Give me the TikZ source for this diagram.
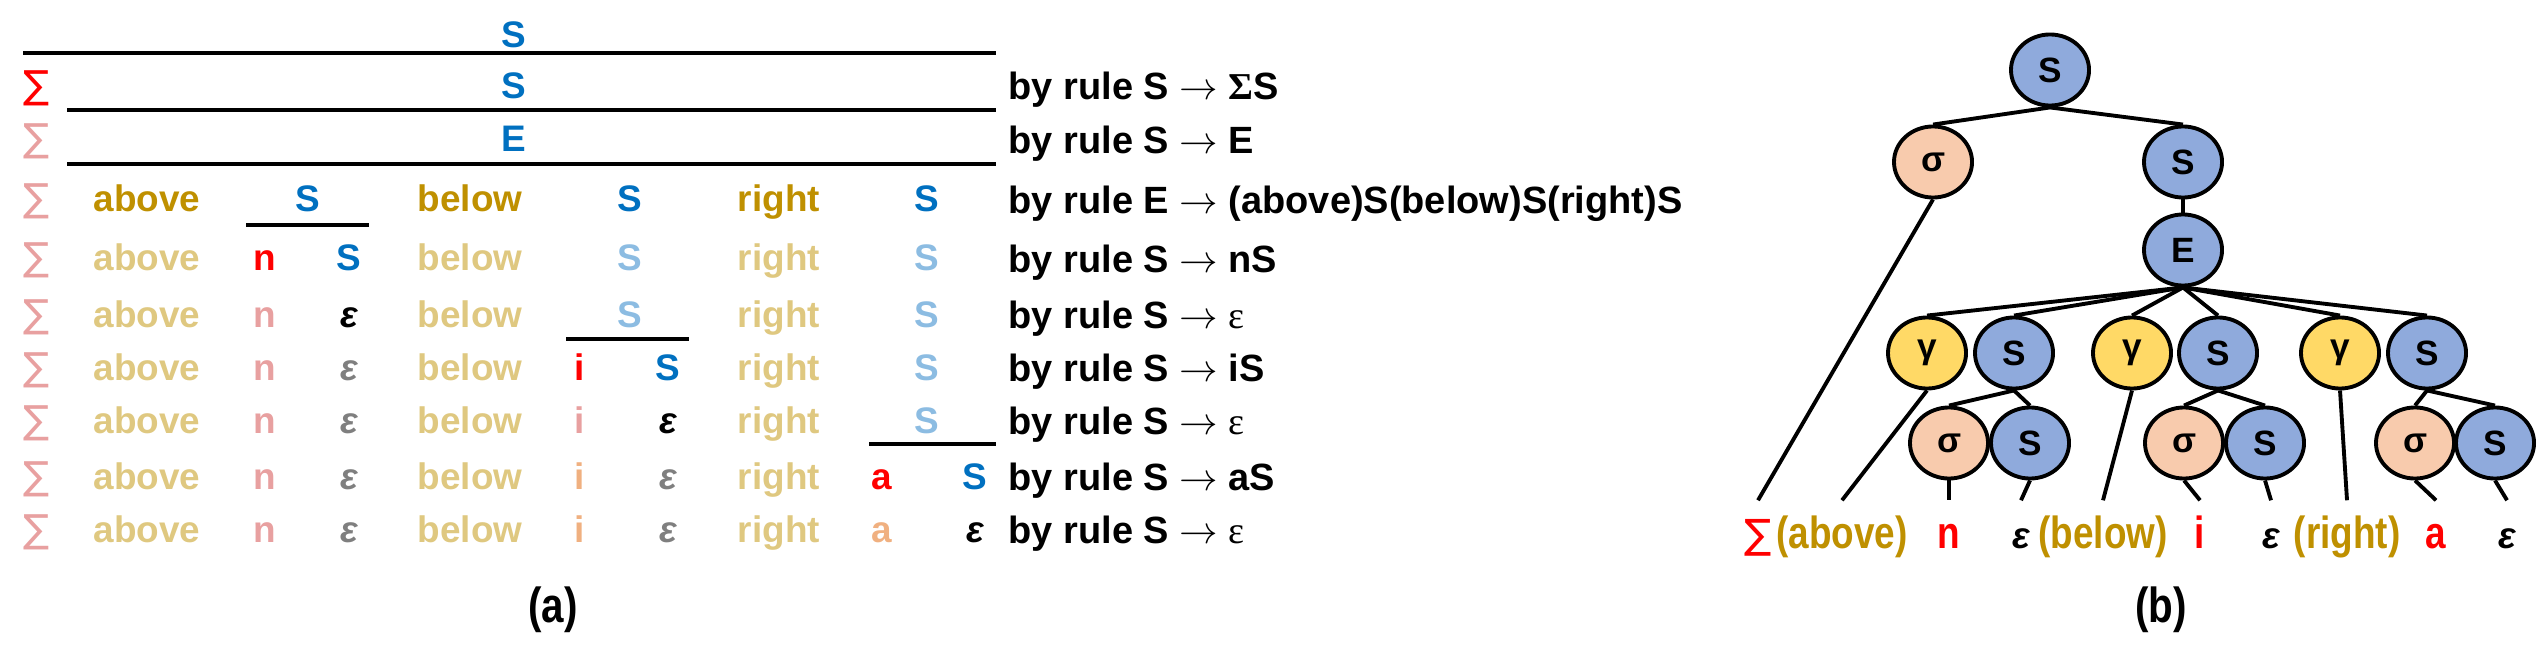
\documentclass[tikz,border=0pt]{standalone}
\usepackage{fontspec}
\setmainfont{Liberation Sans}
\newfontfamily\narrowfont[FakeStretch=0.82]{Liberation Sans}
\newfontfamily\sumfont{DejaVu Sans}
\newfontfamily\greekserif{Liberation Serif}
\usetikzlibrary{shapes,positioning}

\definecolor{tblue}{HTML}{0070C0}
\definecolor{tgold}{HTML}{BF9000}
\definecolor{tred}{HTML}{FF0000}
\definecolor{fadegold}{HTML}{DFC880}
\definecolor{fadeblue}{HTML}{8CBCE2}
\definecolor{fadered}{HTML}{E8A0A0}
\definecolor{fadepeach}{HTML}{F0B080}
\definecolor{epsgray}{HTML}{7F7F7F}
\definecolor{treeblue}{HTML}{8FAADC}
\definecolor{treepeach}{HTML}{F8CBAD}
\definecolor{treeyellow}{HTML}{FFD966}

\begin{document}
\begin{tikzpicture}[x=0.01cm, y=-0.01cm,
    tab/.style={font=\bfseries\fontsize{10.5}{12}\selectfont, inner sep=0pt, anchor=base},
    sumsym/.style={font=\sumfont\fontsize{11}{13}\selectfont, inner sep=0pt, anchor=base, text=fadered},
    eps/.style={font=\bfseries\itshape\fontsize{10.5}{12}\selectfont, inner sep=0pt, anchor=base},
    ruletext/.style={font=\bfseries\fontsize{10.8}{13}\selectfont, inner sep=0pt, anchor=base west},
    uline/.style={line width=1pt},
    tnode/.style={ellipse, draw, line width=1.1pt, minimum width=0.78cm, minimum height=0.71cm, inner sep=0pt, font=\bfseries\fontsize{10}{12}\selectfont},
    nt/.style={tnode, fill=treeblue},
    sig/.style={tnode, fill=treepeach},
    gam/.style={tnode, fill=treeyellow},
    branch/.style={line width=1.1pt},
    leaf/.style={font=\narrowfont\bfseries\fontsize{12.8}{15}\selectfont, inner sep=0pt, anchor=base, text height=0.47cm},
    leafeps/.style={leaf, font=\bfseries\itshape\fontsize{10.5}{12}\selectfont},
    caption/.style={font=\narrowfont\bfseries\fontsize{14}{16}\selectfont, inner sep=0pt, anchor=base}
]
\useasboundingbox (0,0) rectangle (2540,667);

% (a) DERIVATION - LEFT
% Row 1
\node[tab, text=tblue] (s1) at (514,48) {S};
\draw[uline] (23,53) -- (996,53);

% Row 2
\node[sumsym, text=tred] (sum2) at (37,99) {∑};
\node[tab, text=tblue] (s2) at (514,99) {S};
\draw[uline] (67,110) -- (996,110);
\node[ruletext] (rule2) at (1008,100) {by rule S $\rightarrow$ {\greekserif Σ}S};

% Row 3
\node[sumsym] (sum3) at (37,152) {∑};
\node[tab, text=tblue] (e3) at (514,152) {E};
\draw[uline] (67,164) -- (996,164);
\node[ruletext] (rule3) at (1008,153) {by rule S $\rightarrow$ E};

% Row 4
\node[sumsym] (sum4) at (37,212) {∑};
\node[tab, text=tgold] (above4) at (147,212) {above};
\node[tab, text=tblue] (s4a) at (308,212) {S};
\node[tab, text=tgold] (below4) at (470,212) {below};
\node[tab, text=tblue] (s4b) at (630,212) {S};
\node[tab, text=tgold] (right4) at (779,212) {right};
\node[tab, text=tblue] (s4c) at (927,212) {S};
\draw[uline] (246,225) -- (369,225);
\node[ruletext] (rule4) at (1008,213) {by rule E $\rightarrow$ (above)S(below)S(right)S};

% Row 5
\node[sumsym] (sum5) at (37,271) {∑};
\node[tab, text=fadegold] (above5) at (147,271) {above};
\node[tab, text=tred] (n5) at (265,271) {n};
\node[tab, text=tblue] (s5a) at (349,271) {S};
\node[tab, text=fadegold] (below5) at (470,271) {below};
\node[tab, text=fadeblue] (s5b) at (630,271) {S};
\node[tab, text=fadegold] (right5) at (779,271) {right};
\node[tab, text=fadeblue] (s5c) at (927,271) {S};
\node[ruletext] (rule5) at (1008,272) {by rule S $\rightarrow$ nS};

% Row 6
\node[sumsym] (sum6) at (37,327) {∑};
\node[tab, text=fadegold] (above6) at (147,327) {above};
\node[tab, text=fadered] (n6) at (265,327) {n};
\node[eps] (eps6) at (349,327) {ε};
\node[tab, text=fadegold] (below6) at (470,327) {below};
\node[tab, text=fadeblue] (s6b) at (630,327) {S};
\node[tab, text=fadegold] (right6) at (779,327) {right};
\node[tab, text=fadeblue] (s6c) at (927,327) {S};
\draw[uline] (566,339) -- (689,339);
\node[ruletext] (rule6) at (1008,328) {by rule S $\rightarrow$ {\greekserif\mdseries ε}};

% Row 7
\node[sumsym] (sum7) at (37,380) {∑};
\node[tab, text=fadegold] (above7) at (147,380) {above};
\node[tab, text=fadered] (n7) at (265,380) {n};
\node[eps, text=epsgray] (eps7) at (349,380) {ε};
\node[tab, text=fadegold] (below7) at (470,380) {below};
\node[tab, text=tred] (i7) at (580,380) {i};
\node[tab, text=tblue] (s7) at (668,380) {S};
\node[tab, text=fadegold] (right7) at (779,380) {right};
\node[tab, text=fadeblue] (s7c) at (927,380) {S};
\node[ruletext] (rule7) at (1008,381) {by rule S $\rightarrow$ iS};

% Row 8
\node[sumsym] (sum8) at (37,433) {∑};
\node[tab, text=fadegold] (above8) at (147,433) {above};
\node[tab, text=fadered] (n8) at (265,433) {n};
\node[eps, text=epsgray] (eps8a) at (349,433) {ε};
\node[tab, text=fadegold] (below8) at (470,433) {below};
\node[tab, text=fadered] (i8) at (580,433) {i};
\node[eps] (eps8b) at (668,433) {ε};
\node[tab, text=fadegold] (right8) at (779,433) {right};
\node[tab, text=fadeblue] (s8c) at (927,433) {S};
\draw[uline] (869,444) -- (996,444);
\node[ruletext] (rule8) at (1008,434) {by rule S $\rightarrow$ {\greekserif\mdseries ε}};

% Row 9
\node[sumsym] (sum9) at (37,489) {∑};
\node[tab, text=fadegold] (above9) at (147,489) {above};
\node[tab, text=fadered] (n9) at (265,489) {n};
\node[eps, text=epsgray] (eps9a) at (349,489) {ε};
\node[tab, text=fadegold] (below9) at (470,489) {below};
\node[tab, text=fadepeach] (i9) at (580,489) {i};
\node[eps, text=epsgray] (eps9b) at (668,489) {ε};
\node[tab, text=fadegold] (right9) at (779,489) {right};
\node[tab, text=tred] (a9) at (882,489) {a};
\node[tab, text=tblue] (s9) at (975,489) {S};
\node[ruletext] (rule9) at (1008,490) {by rule S $\rightarrow$ aS};

% Row 10
\node[sumsym] (sum10) at (37,542) {∑};
\node[tab, text=fadegold] (above10) at (147,542) {above};
\node[tab, text=fadered] (n10) at (265,542) {n};
\node[eps, text=epsgray] (eps10a) at (349,542) {ε};
\node[tab, text=fadegold] (below10) at (470,542) {below};
\node[tab, text=fadepeach] (i10) at (580,542) {i};
\node[eps, text=epsgray] (eps10b) at (668,542) {ε};
\node[tab, text=fadegold] (right10) at (779,542) {right};
\node[tab, text=fadepeach] (a10) at (882,542) {a};
\node[eps] (eps10c) at (975,542) {ε};
\node[ruletext] (rule10) at (1008,543) {by rule S $\rightarrow$ {\greekserif\mdseries ε}};

\node[caption] (capa) at (553,622) {(a)};

% (b) PARSE TREE - RIGHT
\node[nt] (root) at (2050,70) {S};
\node[sig] (sigA) at (1933,162) {σ};
\node[nt] (sA) at (2183,162) {S};
\node[nt] (e) at (2183,250) {E};

% Third level
\node[gam] (g1) at (1927,353) {γ};
\node[nt] (s2) at (2014,353) {S};
\node[gam] (g2) at (2132,353) {γ};
\node[nt] (s3) at (2218,353) {S};
\node[gam] (g3) at (2340,353) {γ};
\node[nt] (s4) at (2427,353) {S};

% Fourth level
\node[sig] (sigB) at (1949,443) {σ};
\node[nt] (sB) at (2030,443) {S};
\node[sig] (sigC) at (2184,443) {σ};
\node[nt] (sC) at (2265,443) {S};
\node[sig] (sigD) at (2415,443) {σ};
\node[nt] (sD) at (2495,443) {S};

% Leaves
\node[leaf, font=\sumfont\fontsize{11.5}{13}\selectfont, text=tred] (lsum) at (1758,548) {∑};
\node[leaf, text=tgold] (labove) at (1842,548) {(above)};
\node[leaf, text=tred] (ln) at (1949,548) {n};
\node[leafeps] (leps1) at (2021,548) {ε};
\node[leaf, text=tgold] (lbelow) at (2103,548) {(below)};
\node[leaf, text=tred] (li) at (2200,548) {i};
\node[leafeps] (leps2) at (2271,548) {ε};
\node[leaf, text=tgold] (lright) at (2347,548) {(right)};
\node[leaf, text=tred] (la) at (2436,548) {a};
\node[leafeps] (leps3) at (2507,548) {ε};

% Branches
\draw[branch] (root.south) -- (sigA.north);
\draw[branch] (root.south) -- (sA.north);
\draw[branch] (sA.south) -- (e.north);
\draw[branch] (e.south) -- (g1.north);
\draw[branch] (e.south) -- (s2.north);
\draw[branch] (e.south) -- (g2.north);
\draw[branch] (e.south) -- (s3.north);
\draw[branch] (e.south) -- (g3.north);
\draw[branch] (e.south) -- (s4.north);
\draw[branch] (s2.south) -- (sigB.north);
\draw[branch] (s2.south) -- (sB.north);
\draw[branch] (s3.south) -- (sigC.north);
\draw[branch] (s3.south) -- (sC.north);
\draw[branch] (s4.south) -- (sigD.north);
\draw[branch] (s4.south) -- (sD.north);

\draw[branch] (sigA.south) -- (lsum.north);
\draw[branch] (g1.south) -- (labove.north);
\draw[branch] (sigB.south) -- (ln.north);
\draw[branch] (sB.south) -- (leps1.north);
\draw[branch] (g2.south) -- (lbelow.north);
\draw[branch] (sigC.south) -- (li.north);
\draw[branch] (sC.south) -- (leps2.north);
\draw[branch] (g3.south) -- (lright.north);
\draw[branch] (sigD.south) -- (la.north);
\draw[branch] (sD.south) -- (leps3.north);

\node[caption] (capb) at (2161,622) {(b)};

\end{tikzpicture}
\end{document}
